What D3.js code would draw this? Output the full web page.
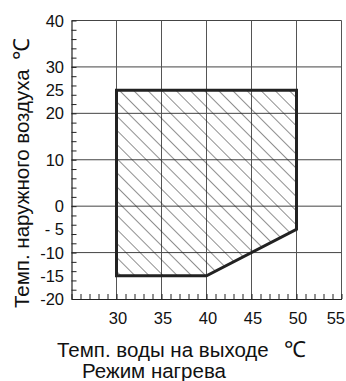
<!DOCTYPE html>
<html>
<head>
<meta charset="UTF-8">
<title>Режим нагрева</title>
<script src="https://d3js.org/d3.v7.min.js"></script>
<style>
  body { margin: 0; background: #fff; }
  svg text { font-family: "Liberation Sans", Arial, sans-serif; fill: #111; }
</style>
</head>
<body>
<svg id="chart" width="346" height="381"></svg>
<script>
// operating range, heating mode
const waterTemp = [30, 50, 50, 40, 30];      // outlet water, °C
const airTemp   = [25, 25, -5, -15, -15];    // outdoor air, °C

const xTickValues = [30, 35, 40, 45, 50, 55];
const yTickValues = [40, 30, 25, 20, 10, 0, -5, -10, -15, -20];
const yTickLabels = ['40', '30', '25', '20', '10', '0', '- 5', '-10', '-15', '-20'];
const xGrid = [30, 35, 40, 45, 50, 55];
const yGrid = [40, 30, 20, 10, 0, -10];

const svg = d3.select('#chart');

const x = d3.scaleLinear().domain([25, 55]).range([71.5, 341.5]);
const y = d3.scaleLinear().domain([-20, 40]).range([299, 20.5]);

// hatch pattern
svg.append('defs').append('pattern')
    .attr('id', 'hatch')
    .attr('patternUnits', 'userSpaceOnUse')
    .attr('width', 10).attr('height', 10)
    .attr('patternTransform', 'rotate(-45)')
  .append('line')
    .attr('x1', 0).attr('y1', 0).attr('x2', 0).attr('y2', 10)
    .attr('stroke', '#222').attr('stroke-width', 1);

// grid
svg.append('g').selectAll('line').data(yGrid).join('line')
    .attr('x1', x(25)).attr('x2', x(55))
    .attr('y1', d => y(d)).attr('y2', d => y(d))
    .attr('stroke', '#444').attr('stroke-width', 1);

svg.append('g').selectAll('line').data(xGrid).join('line')
    .attr('x1', d => x(d)).attr('x2', d => x(d))
    .attr('y1', y(40)).attr('y2', y(-20))
    .attr('stroke', '#555').attr('stroke-width', 1);

// axes with small inward ticks
const yAxis = svg.append('g')
    .attr('transform', `translate(${x(25)},0)`)
    .call(d3.axisLeft(y).tickValues(d3.range(-20, 41, 2)).tickSizeInner(-5).tickSizeOuter(0).tickFormat(''));
const xAxis = svg.append('g')
    .attr('transform', `translate(0,${y(-20)})`)
    .call(d3.axisBottom(x).tickValues(d3.range(25, 56, 1)).tickSizeInner(-5).tickSizeOuter(0).tickFormat(''));
[yAxis, xAxis].forEach(a => {
  a.selectAll('path').attr('stroke', '#222').attr('stroke-width', 1.2);
  a.selectAll('line').attr('stroke', '#222');
});

// tick labels
svg.append('g').selectAll('text').data(yTickValues).join('text')
    .attr('x', 64).attr('y', d => y(d) + 6)
    .attr('text-anchor', 'end')
    .attr('font-size', 16.5)
    .text((d, i) => yTickLabels[i]);

svg.append('g').selectAll('text').data(xTickValues).join('text')
    .attr('x', d => d === 55 ? 345 : x(d) + 1.5)
    .attr('y', 324)
    .attr('text-anchor', d => d === 55 ? 'end' : 'middle')
    .attr('font-size', 16.5)
    .text(d => d);

// operating area
const pts = waterTemp.map((w, i) => [x(w), y(airTemp[i])]);
svg.append('path')
    .attr('d', d3.line()(pts) + 'Z')
    .attr('fill', 'url(#hatch)')
    .attr('stroke', '#222')
    .attr('stroke-width', 3)
    .attr('stroke-linejoin', 'miter');

// titles
const yTitle = svg.append('text')
    .attr('transform', 'translate(29,308) rotate(-90)')
    .attr('font-size', 20.5);
yTitle.append('tspan').text('Темп. наружного воздуха ');
yTitle.append('tspan').attr('dx', 4).attr('font-size', 22).text('℃');

const xTitle = svg.append('text')
    .attr('x', 57).attr('y', 357)
    .attr('font-size', 20.5);
xTitle.append('tspan').text('Темп. воды на выходе');
xTitle.append('tspan').attr('x', 284).attr('font-size', 22).text('℃');

svg.append('text')
    .attr('x', 82).attr('y', 378)
    .attr('font-size', 20.5)
    .text('Режим нагрева');
</script>
</body>
</html>
